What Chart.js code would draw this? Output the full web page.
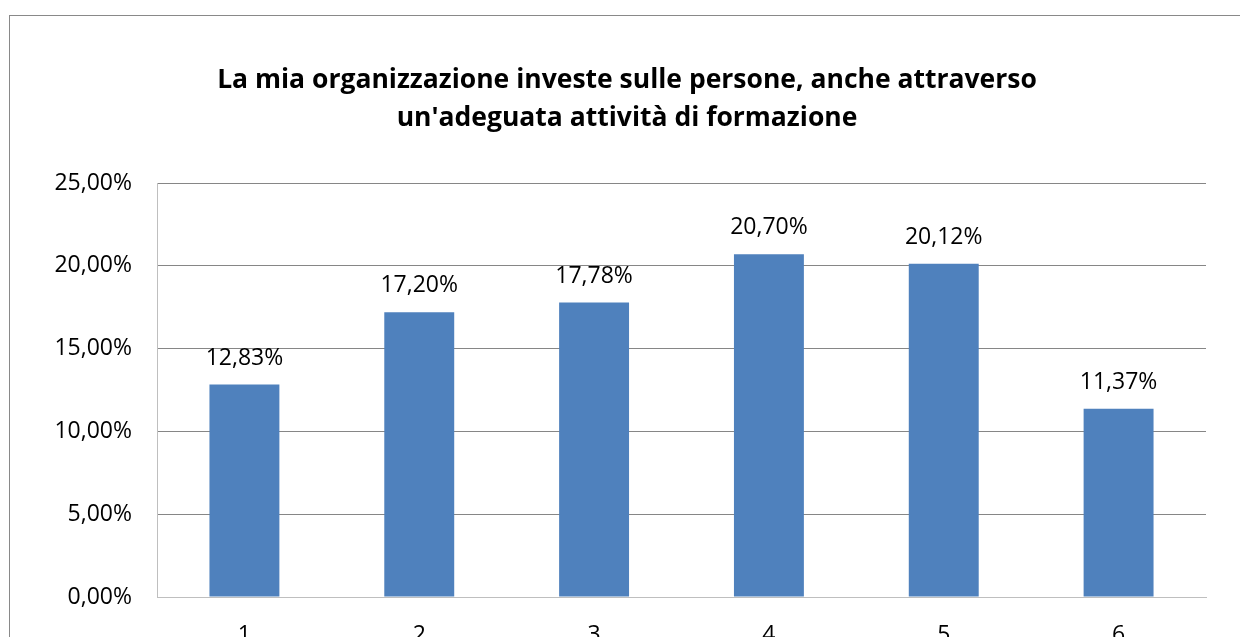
<!DOCTYPE html>
<html><head><meta charset="utf-8">
<script src="https://cdn.jsdelivr.net/npm/chart.js@4"></script>
<style>html,body{margin:0;padding:0;overflow:hidden;background:#fff}#wrap{width:1240px;height:680px}</style>
</head><body><div id="wrap"><canvas id="c" width="1240" height="680"></canvas></div>
<script>
const categories = ['1','2','3','4','5','6'];
const values = [12.83, 17.20, 17.78, 20.70, 20.12, 11.37];
const titleLines = ["La mia organizzazione investe sulle persone, anche attraverso", "un'adeguata attività di formazione"];
const FONT = "'Open Sans', sans-serif";
const fmt = v => v.toFixed(2).replace('.', ',') + '%';

const decor = {
  id: 'decor',
  beforeDraw(chart) {
    const ctx = chart.ctx;
    ctx.save();
    ctx.fillStyle = '#fff';
    ctx.fillRect(0, 0, chart.width, chart.height);
    ctx.strokeStyle = '#898989';
    ctx.lineWidth = 1;
    ctx.strokeRect(9.5, 15.5, 1400, 800);
    ctx.restore();
  },
  afterDraw(chart) {
    const ctx = chart.ctx;
    ctx.save();
    ctx.fillStyle = '#000';
    ctx.textAlign = 'center';
    ctx.textBaseline = 'middle';
    ctx.font = "bold 26.5px " + FONT;
    ctx.fillText(titleLines[0], 627, 80);
    ctx.fillText(titleLines[1], 627, 118);
    ctx.font = "23px " + FONT;
    ctx.textBaseline = 'alphabetic';
    const meta = chart.getDatasetMeta(0);
    meta.data.forEach((bar, i) => {
      ctx.fillText(fmt(values[i]), bar.x, bar.y - 20);
    });
    ctx.restore();
  }
};

new Chart(document.getElementById('c'), {
  type: 'bar',
  data: {
    labels: categories,
    datasets: [{ data: values, backgroundColor: '#4F81BD', borderWidth: 0, categoryPercentage: 1, barPercentage: 0.4 }]
  },
  options: {
    responsive: false,
    animation: false,
    layout: { padding: { top: 183, right: 34, left: 0, bottom: 33 } },
    plugins: { legend: { display: false }, tooltip: { enabled: false }, title: { display: false } },
    scales: {
      x: {
        afterFit(s) { s.height = 50; },
        grid: { display: false, drawTicks: false },
        border: { color: '#BFBFBF', width: 1 },
        ticks: { color: '#000', font: { family: FONT, size: 23 }, padding: 25 }
      },
      y: {
        min: 0, max: 25,
        afterFit(s) { s.width = 157; },
        grid: { color: ctx => ctx.tick && ctx.tick.value === 0 ? '#BFBFBF' : '#868686', drawTicks: false },
        border: { color: '#BFBFBF', width: 1 },
        ticks: { stepSize: 5, color: '#000', font: { family: FONT, size: 23 }, padding: 25, callback: v => fmt(v) }
      }
    }
  },
  plugins: [decor]
});
</script></body></html>
